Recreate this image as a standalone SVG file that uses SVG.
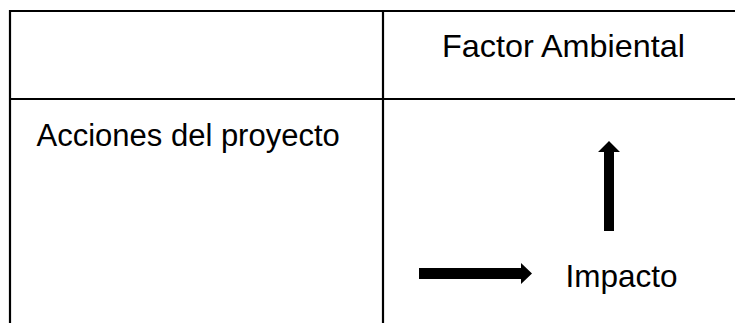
<svg xmlns="http://www.w3.org/2000/svg" width="735" height="323" viewBox="0 0 735 323">
<style>
.ln{stroke:#000;stroke-width:2.2;fill:none}
.t{font-family:"Liberation Sans",Arial,sans-serif;font-size:31px;fill:#000}
.ar{fill:#000}
</style>
<rect width="735" height="323" fill="#fff"/>
<g id="table">
<line class="ln" x1="9" y1="11" x2="735" y2="11"/>
<line class="ln" x1="9" y1="99" x2="735" y2="99"/>
<line class="ln" x1="10" y1="10" x2="10" y2="323"/>
<line class="ln" x1="383" y1="10" x2="383" y2="323"/>
</g>
<g id="factor"><text class="t" x="442" y="57" style="font-size:32px" textLength="243" lengthAdjust="spacingAndGlyphs">Factor Ambiental</text></g>
<g id="acciones"><text class="t" x="36.5" y="146">Acciones del proyecto</text></g>
<g id="impacto"><text class="t" x="565.5" y="287" style="font-size:31.5px">Impacto</text></g>
<g id="connectors">
<polygon class="ar" points="604,231 614,231 614,152 620,152 609,141 598,152 604,152"/>
<polygon class="ar" points="419,268 521,268 521,263 532,273.5 521,284 521,279 419,279"/>
</g>
</svg>
